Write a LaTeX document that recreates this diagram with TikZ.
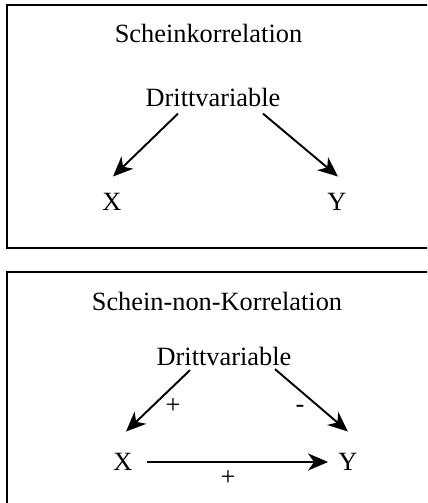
\documentclass[tikz,border=0pt]{standalone}
\usepackage{fontspec}
\setmainfont{Liberation Serif}
\usetikzlibrary{arrows.meta,positioning}

\begin{document}
\begin{tikzpicture}[
    x=0.02cm, y=-0.02cm,
    panel/.style={draw, line width=1.4pt},
    word/.style={inner sep=0pt, font=\fontsize{15}{18}\selectfont},
    line/.style={draw, line width=1.1pt, -{Stealth[length=4mm,width=3.4mm,inset=1.2mm]}},
    node distance=4.5cm
]
\useasboundingbox (0,0) rectangle (427,503);
\clip (0,0) rectangle (427,503);

% Panels
\draw[panel] (7,5) rectangle (450,248);
\draw[panel] (7,272) rectangle (450,520);

% Nodes, upper panel
\node[word] (title1) at (208.5,33.5) {Scheinkorrelation};
\node[word] (dritt1) at (213,97) {Drittvariable};
\node[word] (x1) at (112,202) {X};
\node[word, right of=x1] (y1) {Y};

% Nodes, lower panel
\node[word] (title2) at (217,301.5) {Schein-non-Korrelation};
\node[word] (dritt2) at (224,356.5) {Drittvariable};
\node[word] (x2) at (123,462) {X};
\node[word, right of=x2] (y2) {Y};

% Lines, upper panel
\draw[line] ([xshift=-0.7cm,yshift=-0.14cm]dritt1.south) -- ([xshift=0.02cm,yshift=0.33cm]x1.north);
\draw[line] ([xshift=1cm,yshift=-0.14cm]dritt1.south) -- ([xshift=0.02cm,yshift=0.33cm]y1.north);

% Lines, lower panel
\draw[line] ([xshift=-0.68cm,yshift=-0.08cm]dritt2.south) -- node[word, midway, xshift=0.3cm, yshift=-0.11cm] {+} ([xshift=0.06cm,yshift=0.43cm]x2.north);
\draw[line] ([xshift=1.02cm,yshift=-0.06cm]dritt2.south) -- node[word, midway, xshift=-0.23cm, yshift=-0.18cm] {-} ([yshift=0.43cm]y2.north);
\draw[line] ([xshift=0.28cm]x2.east) -- node[word, midway, xshift=-0.19cm, yshift=-0.32cm] {+} ([xshift=-0.2cm]y2.west);

\end{tikzpicture}
\end{document}
